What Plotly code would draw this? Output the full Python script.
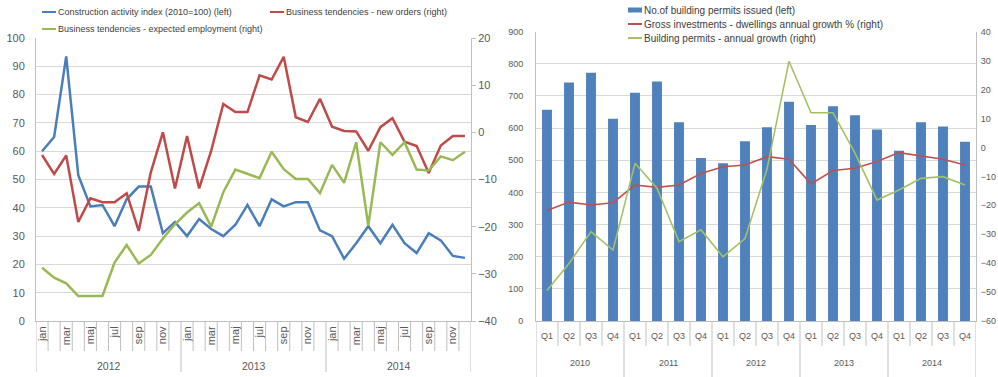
import plotly.graph_objects as go

W, H = 998, 377
FONT = "Liberation Sans, Arial, sans-serif"
TICK_COL = "#595959"
GRID_COL = "#D9D9D9"
AXIS_COL = "#BFBFBF"

# ---------------- Left panel data ----------------
years_left = ["2012", "2013", "2014"]
month_names = ["jan", "feb", "mar", "apr", "maj", "jun", "jul", "avg", "sep", "okt", "nov", "dec"]
construction_index = [60, 65, 93.5, 51.5, 40.5, 41, 33.5, 43, 47.5, 47.5, 31, 35,
                      30, 36, 32.5, 30, 34, 41, 33.5, 43, 40.5, 42, 42, 32,
                      30, 22, 27.5, 33.5, 27.5, 34, 27.5, 24, 31, 28.5, 23, 22.3]
new_orders = [-4.8, -8.8, -4.9, -19, -14, -14.8, -14.8, -12.9, -20.9, -8.5, 0, -11.9,
              -0.8, -11.9, -3.9, 6, 4.3, 4.3, 12.1, 11.2, 16, 3.2, 2.2, 7.1,
              1.2, 0.3, 0.2, -3.9, 1.1, 3, -2, -2.9, -8.6, -2.8, -0.8, -0.8]
expected_employment = [-28.7, -30.8, -32, -34.7, -34.7, -34.7, -27.6, -23.9, -27.8, -26, -22.5, -19.5,
                       -17, -15, -20, -12.7, -7.9, -8.8, -9.7, -4.1, -7.8, -9.9, -9.9, -12.9,
                       -6.9, -10.7, -2.1, -19.8, -2.1, -4.8, -2.1, -7.9, -8.1, -5.1, -5.9, -4.1]

# ---------------- Right panel data ----------------
years_right = ["2010", "2011", "2012", "2013", "2014"]
quarter_names = ["Q1", "Q2", "Q3", "Q4"]
permits_issued = [657, 742, 772, 629, 710, 745, 618, 507, 491, 559, 603, 682,
                  610, 668, 640, 596, 530, 618, 605, 558]
gross_investment_growth = [-21.8, -18.9, -19.9, -19.1, -13.0, -13.8, -13.0, -9.0, -6.7, -6.1,
                           -3.2, -4.1, -12.6, -8.0, -7.2, -4.9, -1.8, -3.0, -4.1, -6.1]
permits_growth = [-49.5, -40.1, -29.1, -35.5, -5.5, -14.1, -32.6, -28.5, -37.8, -31.5,
                  -7.5, 29.8, 12.0, 12.0, -2.0, -18.2, -14.7, -10.7, -10.1, -13.0]

names_left = ["Construction activity index (2010=100) (left)",
              "Business tendencies - new orders (right)",
              "Business tendencies - expected employment (right)"]
names_right = ["No.of building permits issued (left)",
               "Gross investments - dwellings annual growth % (right)",
               "Building permits - annual growth (right)"]

C_BLUE, C_RED, C_GREEN = "#4A7EBB", "#BE4B48", "#98B954"
C_BAR, C_RED2, C_GREEN2 = "#4F81BD", "#C0504D", "#A3C265"


def px(x):
    return x / W


def py(y):
    return 1 - y / H


nL = len(construction_index)
xL = list(range(nL))
nR = len(permits_issued)
xR = list(range(nR))

fig = go.Figure()
fig.add_trace(go.Scatter(x=xL, y=construction_index, mode="lines", name=names_left[0],
                         line=dict(color=C_BLUE, width=2.5), xaxis="x", yaxis="y"))
fig.add_trace(go.Scatter(x=xL, y=new_orders, mode="lines", name=names_left[1],
                         line=dict(color=C_RED, width=2.5), xaxis="x", yaxis="y2"))
fig.add_trace(go.Scatter(x=xL, y=expected_employment, mode="lines", name=names_left[2],
                         line=dict(color=C_GREEN, width=2.5), xaxis="x", yaxis="y2"))

fig.add_trace(go.Bar(x=xR, y=permits_issued, name=names_right[0], width=0.45,
                     marker=dict(color=C_BAR, line=dict(width=0)), xaxis="x2", yaxis="y3"))
fig.add_trace(go.Scatter(x=xR, y=gross_investment_growth, mode="lines", name=names_right[1],
                         line=dict(color=C_RED2, width=1.6), xaxis="x2", yaxis="y4"))
fig.add_trace(go.Scatter(x=xR, y=permits_growth, mode="lines", name=names_right[2],
                         line=dict(color=C_GREEN2, width=1.6), xaxis="x2", yaxis="y4"))

# Geometry (pixels)
L_X0, L_X1, L_Y0, L_Y1 = 36, 471, 38, 321
R_X0, R_X1, R_Y0, R_Y1 = 536, 976, 31.7, 321

tick_font_L = dict(family=FONT, size=11, color=TICK_COL)
tick_font_R = dict(family=FONT, size=9, color=TICK_COL)

lbl_idx = [i for i in xL if i % 2 == 0]
fig.update_layout(
    width=W, height=H, template="none",
    margin=dict(l=0, r=0, t=0, b=0),
    paper_bgcolor="white", plot_bgcolor="white",
    showlegend=False, font=dict(family=FONT),
    xaxis=dict(domain=[px(L_X0), px(L_X1)], range=[-0.5, nL - 0.5], anchor="y",
               tickmode="array", tickvals=lbl_idx,
               ticktext=[month_names[i % 12] for i in lbl_idx],
               tickangle=-90, tickfont=tick_font_L, ticks="", showgrid=False,
               showline=True, linecolor=AXIS_COL, zeroline=False, automargin=False),
    yaxis=dict(domain=[py(L_Y1), py(L_Y0)], range=[0, 100], dtick=10, anchor="x",
               tickfont=tick_font_L, showgrid=True, gridcolor=GRID_COL, ticks="",
               ticklabelstandoff=8, showline=True, linecolor=AXIS_COL,
               zeroline=False, automargin=False),
    yaxis2=dict(overlaying="y", side="right", range=[-40, 20], dtick=10, anchor="x",
                tickfont=tick_font_L, showgrid=False, ticks="outside", ticklen=4,
                tickcolor=AXIS_COL, showline=True, linecolor=AXIS_COL,
                zeroline=False, automargin=False),
    xaxis2=dict(domain=[px(R_X0), px(R_X1)], range=[-0.5, nR - 0.5], anchor="y3",
                tickmode="array", tickvals=xR,
                ticktext=[quarter_names[i % 4] for i in xR],
                tickfont=tick_font_R, ticks="", showgrid=False, ticklabelstandoff=6,
                showline=True, linecolor=AXIS_COL, zeroline=False, automargin=False),
    yaxis3=dict(domain=[py(R_Y1), py(R_Y0)], range=[0, 900], dtick=100, anchor="x2",
                tickfont=tick_font_R, showgrid=True, gridcolor=GRID_COL, ticks="",
                ticklabelstandoff=10, showline=True, linecolor=AXIS_COL,
                zeroline=False, automargin=False),
    yaxis4=dict(overlaying="y3", side="right", range=[-60, 40], dtick=10, anchor="x2",
                tickfont=tick_font_R, showgrid=False, ticks="", ticklabelstandoff=2,
                showline=True, linecolor=AXIS_COL, zeroline=False, automargin=False),
)

shapes = []
annotations = []

# Left panel category boundary ticks and year dividers
for b in range(nL + 1):
    long = b % 12 == 0
    shapes.append(dict(type="line", xref="x", yref="paper", x0=b - 0.5, x1=b - 0.5,
                       y0=py(L_Y1), y1=py(372 if long else 351),
                       line=dict(color=AXIS_COL, width=1)))
for k, yr in enumerate(years_left):
    annotations.append(dict(x=12 * k + 5.5, y=py(366), xref="x", yref="paper", text=yr,
                            showarrow=False, font=dict(family=FONT, size=10.5, color=TICK_COL),
                            xanchor="center", yanchor="middle"))

# Right panel quarter boundary ticks and year dividers
for b in range(nR + 1):
    long = b % 4 == 0
    shapes.append(dict(type="line", xref="x2", yref="paper", x0=b - 0.5, x1=b - 0.5,
                       y0=py(R_Y1), y1=py(377 if long else 346),
                       line=dict(color=AXIS_COL, width=1)))
for k, yr in enumerate(years_right):
    annotations.append(dict(x=4 * k + 1.5, y=py(362.5), xref="x2", yref="paper", text=yr,
                            showarrow=False, font=dict(family=FONT, size=9, color=TICK_COL),
                            xanchor="center", yanchor="middle"))

# Custom legends (short Excel-style samples)
LEG_COL = "#404040"


def legend_item(x0, y, name, color, kind, size):
    if kind == "line":
        shapes.append(dict(type="line", xref="paper", yref="paper",
                           x0=px(x0), x1=px(x0 + 14), y0=py(y), y1=py(y),
                           line=dict(color=color, width=2)))
    else:
        shapes.append(dict(type="rect", xref="paper", yref="paper",
                           x0=px(x0), x1=px(x0 + 14), y0=py(y + 2.5), y1=py(y - 2.5),
                           fillcolor=color, line=dict(width=0)))
    annotations.append(dict(x=px(x0 + 14), y=py(y), xref="paper", yref="paper", text=name,
                            showarrow=False, xanchor="left", yanchor="middle",
                            font=dict(family=FONT, size=size, color=LEG_COL)))


legend_item(42, 12, names_left[0], C_BLUE, "line", 9)
legend_item(270, 12, names_left[1], C_RED, "line", 9)
legend_item(42, 29, names_left[2], C_GREEN, "line", 9)

legend_item(628, 10, names_right[0], C_BAR, "rect", 10)
legend_item(628, 24, names_right[1], C_RED2, "line", 10)
legend_item(628, 38, names_right[2], C_GREEN2, "line", 10)

fig.update_layout(shapes=shapes, annotations=annotations)
fig.write_html("out.html")
